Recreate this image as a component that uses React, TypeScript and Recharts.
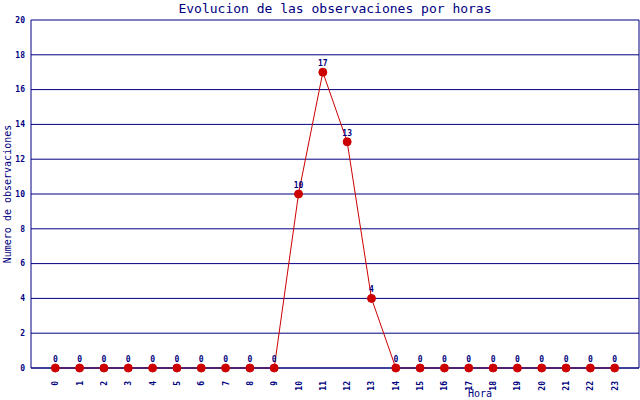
import React from 'react';
import { LineChart, Line, XAxis, YAxis, CartesianGrid, LabelList, ReferenceLine, Label } from 'recharts';

const hours = [0,1,2,3,4,5,6,7,8,9,10,11,12,13,14,15,16,17,18,19,20,21,22,23];
const observations = [0,0,0,0,0,0,0,0,0,0,10,17,13,4,0,0,0,0,0,0,0,0,0,0];
const yTicks = [0,2,4,6,8,10,12,14,16,18,20];

const data = hours.map((h, i) => ({ hora: h, obs: observations[i] }));

const NAVY = '#000080';
const RED = '#cc0000';
const FONT = '"DejaVu Sans Mono", monospace';

const XTick = (props: any) => {
  const { x, y, payload } = props;
  return (
    <text transform={`translate(${x + 3},${y + 5}) rotate(-90)`} textAnchor="end" fill={NAVY} fontFamily={FONT} fontSize={8} fontWeight="bold">
      {payload.value}
    </text>
  );
};

export default function App() {
  return (
    <div style={{ position: 'absolute', left: 0, top: 0, background: '#fff' }}>
      <LineChart width={640} height={400} data={data} margin={{ top: 20, right: 1, left: 0, bottom: 0 }}>
        <text x={335} y={13} textAnchor="middle" fill={NAVY} fontFamily={FONT} fontSize={13}>
          Evolucion de las observaciones por horas
        </text>
        <CartesianGrid vertical={false} stroke={NAVY} strokeWidth={1} />
        <XAxis
          dataKey="hora"
          type="number"
          domain={[-1, 24]}
          ticks={hours}
          interval={0}
          tick={<XTick />}
          tickLine={false}
          axisLine={{ stroke: NAVY }}
          height={32}
        >
          <Label
            content={() => (
              <text x={480} y={397} textAnchor="middle" fill={NAVY} fontFamily={FONT} fontSize={10}>Hora</text>
            )}
          />
        </XAxis>
        <YAxis
          domain={[0, 20]}
          ticks={yTicks}
          interval={0}
          width={31}
          tickLine={false}
          axisLine={{ stroke: NAVY }}
          tickMargin={0}
          tick={{ fill: NAVY, fontFamily: FONT, fontSize: 8, fontWeight: 'bold' }}
        >
          <Label
            content={() => (
              <text transform="translate(11,194) rotate(-90)" textAnchor="middle" fill={NAVY} fontFamily={FONT} fontSize={10}>
                Numero de observaciones
              </text>
            )}
          />
        </YAxis>
        <ReferenceLine x={24} stroke={NAVY} />
        <Line
          type="linear"
          dataKey="obs"
          stroke={RED}
          strokeWidth={1}
          dot={{ r: 4, fill: RED, stroke: RED, strokeWidth: 1 }}
          isAnimationActive={false}
        >
          <LabelList dataKey="obs" position="top" offset={6} fill={NAVY} fontFamily={FONT} fontSize={8} fontWeight="bold" />
        </Line>
      </LineChart>
    </div>
  );
}
